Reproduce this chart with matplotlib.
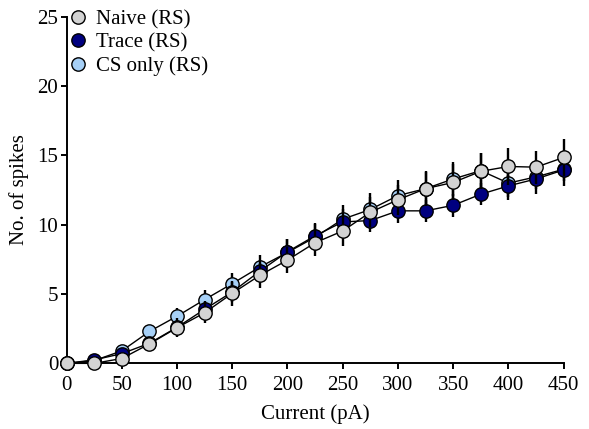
import matplotlib
matplotlib.use("Agg")
import matplotlib.pyplot as plt
from matplotlib.lines import Line2D

plt.rcParams['font.family'] = ['Liberation Serif', 'DejaVu Serif']

current = [0, 25, 50, 75, 100, 125, 150, 175, 200, 225, 250, 275, 300, 325, 350, 375, 400, 425, 450]

naive = [0, 0.0, 0.35, 1.4, 2.57, 3.65, 5.05, 6.35, 7.45, 8.7, 9.55, 10.9, 11.8, 12.6, 13.05, 13.85, 14.2, 14.15, 14.85]
naive_err = [0, 0.1, 0.3, 0.5, 0.7, 0.75, 0.9, 0.9, 0.95, 0.95, 1.05, 1.1, 1.1, 1.25, 1.3, 1.3, 1.3, 1.2, 1.35]

trace = [0, 0.25, 0.7, 1.45, 2.6, 3.9, 5.15, 6.65, 8.05, 9.2, 10.2, 10.3, 11.0, 11.0, 11.4, 12.2, 12.8, 13.3, 13.95]
trace_err = [0, 0.1, 0.3, 0.4, 0.55, 0.6, 0.7, 0.8, 0.95, 0.85, 0.9, 0.85, 0.9, 0.8, 0.85, 0.8, 0.8, 0.75, 0.8]

cs_only = [0, 0.2, 0.9, 2.3, 3.4, 4.6, 5.75, 6.95, 8.0, 9.1, 10.4, 11.1, 12.1, 12.6, 13.3, 13.9, 13.0, 13.45, 14.0]
cs_err = [0, 0.1, 0.3, 0.45, 0.6, 0.7, 0.8, 0.9, 1.0, 1.0, 1.0, 1.2, 1.1, 1.2, 1.2, 1.25, 1.2, 1.2, 1.2]

labels = ['Naive (RS)', 'Trace (RS)', 'CS only (RS)']
colors = ['#d3d3d3', '#000080', '#a6d0f7']

fig = plt.figure(figsize=(5.89, 4.29), dpi=100)
ax = fig.add_axes([0.113, 0.153, 0.844, 0.808])

# draw order: CS only at the bottom, then Trace, Naive on top
series = [(cs_only, cs_err, colors[2], 3), (trace, trace_err, colors[1], 5), (naive, naive_err, colors[0], 7)]
for vals, err, col, z in series:
    ax.errorbar(current, vals, yerr=err, fmt='none', ecolor='black', elinewidth=1.7,
                capsize=0, zorder=z, clip_on=False)
    ax.plot(current, vals, color='black', lw=1.0, marker='o', markersize=9.6,
            markerfacecolor=col, markeredgecolor='black', markeredgewidth=1.0,
            zorder=z + 1, clip_on=False)

ax.set_xlim(0, 450)
ax.set_ylim(0, 25)
ax.set_xticks(range(0, 451, 50))
ax.set_yticks(range(0, 26, 5))
ax.spines['top'].set_visible(False)
ax.spines['right'].set_visible(False)
for s in ['left', 'bottom']:
    ax.spines[s].set_linewidth(1.4)
ax.tick_params(direction='out', length=4, width=1.4, labelsize=15)
ax.tick_params(axis='x', pad=5)
ax.tick_params(axis='y', pad=2)
ax.set_xlabel('Current (pA)', fontsize=15, labelpad=7)
ax.set_ylabel('No. of spikes', fontsize=15, labelpad=6)

handles = [Line2D([], [], ls='none', marker='o', markersize=9.6, markerfacecolor=c,
                  markeredgecolor='black', markeredgewidth=1.0) for c in colors]
ax.legend(handles, labels, loc='upper left', bbox_to_anchor=(0.118, 0.977),
          bbox_transform=fig.transFigure, frameon=False, fontsize=15,
          handlelength=0.8, handletextpad=0.45, labelspacing=0.18,
          borderaxespad=0, borderpad=0)

fig.savefig('out.png', dpi=100)
